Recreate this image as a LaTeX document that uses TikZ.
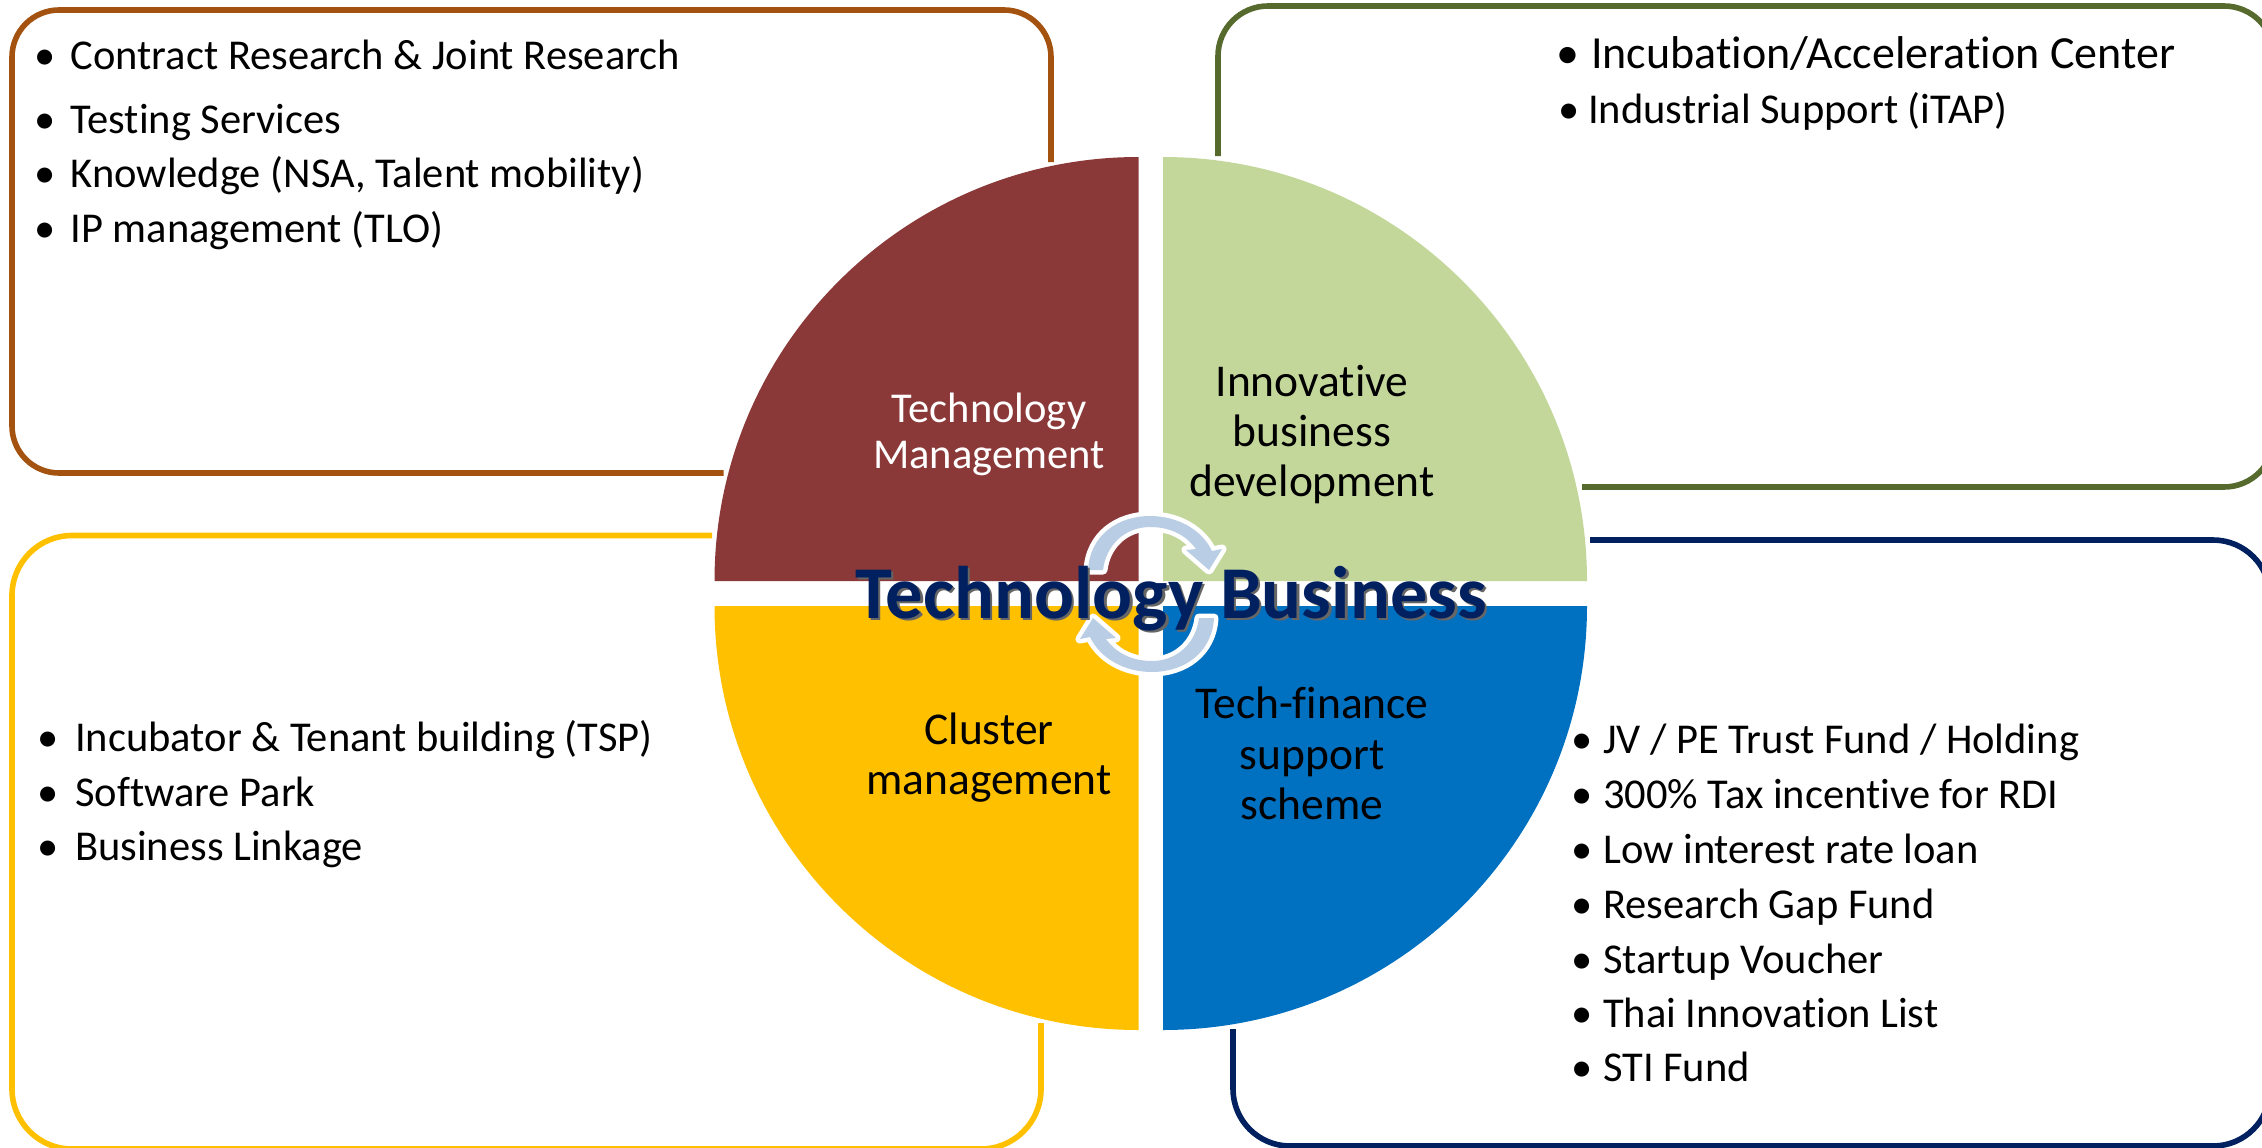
\documentclass[tikz,border=0pt]{standalone}
\usepackage{fontspec}
\setmainfont[Ligatures=NoCommon]{Carlito}
\definecolor{qbrown}{HTML}{8B3838}
\definecolor{qgreen}{HTML}{C4D79B}
\definecolor{qyellow}{HTML}{FFC000}
\definecolor{qblue}{HTML}{0070C0}
\definecolor{lbrown}{HTML}{A3520F}
\definecolor{lgreen}{HTML}{566A2E}
\definecolor{lnavy}{HTML}{002060}
\definecolor{arrowfill}{HTML}{B9CDE5}
\tikzset{
  framebox/.style={line width=5.6pt,rounded corners=#1},
  quad/.style={draw=none},
  bul/.style={anchor=base,inner sep=0pt,font=\fontsize{#1}{#1}\selectfont},
  item/.style={anchor=base west,inner sep=0pt,font=\fontsize{#1}{#1}\selectfont},
  qlabel/.style={align=center,inner sep=0pt,font=\fontsize{#1}{50.2}\selectfont},
  cyc/.style={fill=arrowfill,preaction={draw=white,line width=9pt,line join=round}},
}
\newcommand{\cycpath}{(1088,570) .. controls (1090,535) and (1118,516) .. (1150,516) .. controls (1178,516) and (1202,530) .. (1212,551) -- (1222,549) -- (1209,570) -- (1186,550) -- (1196,549) .. controls (1186,535) and (1170,527) .. (1150,527) .. controls (1125,527) and (1106,545) .. (1103,570) -- cycle}
% \bulitem{name}{bullet x}{text x}{baseline y}{size}{text}
\newcommand{\bulitem}[6]{%
  \node[bul=#5] (#1b) at (#2,#4+1.3) {•};
  \node[item=#5] (#1) at (#3,#4+1.3) {#6};
}
\begin{document}
\begin{tikzpicture}[x=1pt,y=-1pt]
\useasboundingbox (0,0) rectangle (2262,1148);
\clip (0,0) rectangle (2262,1148);
% frames
\draw[lbrown,framebox=47pt] (1051,162) -- (1051,10) -- (12,10) -- (12,473) -- (723.5,473);
\draw[lgreen,framebox=50pt] (1218,156) -- (1218,6) -- (2274,6) -- (2274,487) -- (1582,487);
\draw[qyellow,framebox=60pt] (712,535.5) -- (12,535.5) -- (12,1149) -- (1041,1149) -- (1041,1023);
\draw[lnavy,framebox=57pt] (1590,540) -- (2270,540) -- (2270,1146) -- (1233,1146) -- (1233,1029);
% quadrants
\fill[qbrown,quad] (1138.5,581) -- (714.5,581) arc[start angle=180,end angle=90,radius=424pt] -- cycle;
\fill[qgreen,quad] (1163,581) -- (1587,581) arc[start angle=0,end angle=90,radius=424pt] -- cycle;
\fill[qyellow,quad] (1138.5,606) -- (714.5,606) arc[start angle=180,end angle=270,radius=424pt] -- cycle;
\fill[qblue,quad] (1163,606) -- (1587,606) arc[start angle=0,end angle=-90,radius=424pt] -- cycle;
% cycle arrows
\path[cyc] \cycpath;
\begin{scope}[rotate around={180:(1151,594)}]
\path[cyc] \cycpath;
\end{scope}
% quadrant labels
\node[qlabel=42.5,text=white] (tm) at (989,434.5) {Technology\\[-3.5pt]Management};
\node[qlabel=45.5] (ib) at (1312,434.5) {Innovative\\business\\development};
\node[qlabel=45.5] (cm) at (989,757.5) {Cluster\\management};
\node[qlabel=45.5] (tf) at (1312,753.5) {Tech-finance\\support\\scheme};
% title
\node[anchor=base,inner sep=0pt,text=black!60,font=\fontsize{74.5}{74.5}\selectfont\bfseries] (titleshadow) at (1173.5,620.5) {Technology Business};
\node[anchor=base,inner sep=0pt,text=lnavy,font=\fontsize{74.5}{74.5}\selectfont\bfseries] (title) at (1171,618) {Technology Business};
% lists
\bulitem{a1}{45.5}{70.5}{68}{42.5}{Contract Research \& Joint Research}
\bulitem{a2}{45.5}{70.5}{132}{42.5}{Testing Services}
\bulitem{a3}{45.5}{70.5}{186}{42.5}{Knowledge (NSA, Talent mobility)}
\bulitem{a4}{45.5}{70.5}{241}{42.5}{IP management (TLO)}
\bulitem{b1}{1568}{1591}{67}{46}{Incubation/Acceleration Center}
\bulitem{b2}{1569}{1588}{122}{42.5}{Industrial Support (iTAP)}
\bulitem{c1}{48.5}{75}{750}{42.5}{Incubator \& Tenant building (TSP)}
\bulitem{c2}{48.5}{75}{805}{42.5}{Software Park}
\bulitem{c3}{48.5}{75}{859}{42.5}{Business Linkage}
\bulitem{d1}{1582}{1603}{752}{42.5}{JV / PE Trust Fund / Holding}
\bulitem{d2}{1582}{1603}{807}{42.5}{300\% Tax incentive for RDI}
\bulitem{d3}{1582}{1603}{862}{42.5}{Low interest rate loan}
\bulitem{d4}{1582}{1603}{917}{42.5}{Research Gap Fund}
\bulitem{d5}{1582}{1603}{972}{42.5}{Startup Voucher}
\bulitem{d6}{1582}{1603}{1026}{42.5}{Thai Innovation List}
\bulitem{d7}{1582}{1603}{1080}{42.5}{STI Fund}
\end{tikzpicture}
\end{document}
